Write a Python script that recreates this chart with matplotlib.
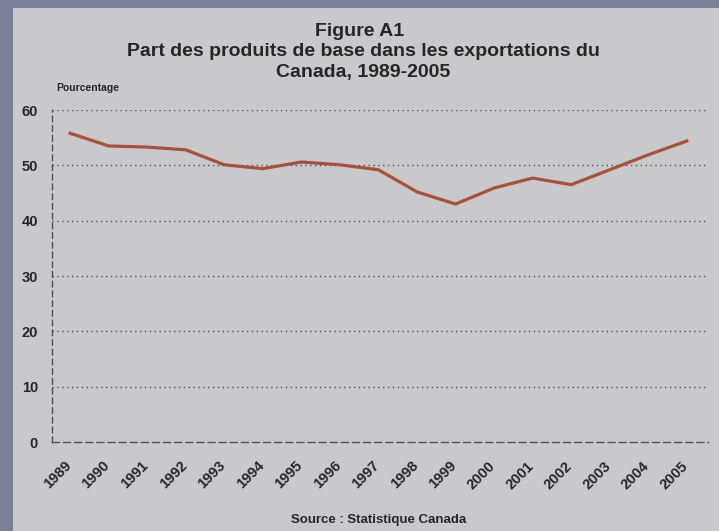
import matplotlib
matplotlib.use('Agg')
import matplotlib.pyplot as plt
import matplotlib.transforms as mtransforms
from matplotlib.patches import Rectangle

annees = ['1989', '1990', '1991', '1992', '1993', '1994', '1995', '1996', '1997',
          '1998', '1999', '2000', '2001', '2002', '2003', '2004', '2005']
part = [55.8, 53.5, 53.3, 52.8, 50.1, 49.4, 50.6, 50.1, 49.2,
        45.2, 43.0, 45.9, 47.7, 46.5, 49.2, 51.9, 54.4]
graduations = [0, 10, 20, 30, 40, 50, 60]

plt.rcParams['font.family'] = ['Liberation Sans', 'DejaVu Sans']
plt.rcParams['font.weight'] = 'bold'

fond_bord = '#7b7f9a'
fond = '#c9c9cb'
gris = '#505050'
texte = '#262626'

fig = plt.figure(figsize=(7.19, 5.31), dpi=100, facecolor=fond_bord)
fig.patches.append(Rectangle((13/719, 0), 1, 1 - 8/531, transform=fig.transFigure,
                             facecolor=fond, edgecolor='none', zorder=-5))

ax = fig.add_axes([52/719, 1 - 442/531, 656/719, 332/531])
ax.set_facecolor('none')
ax.set_zorder(2)

x = list(range(len(annees)))
ax.plot(x, part, color='#a4513d', lw=2.3, solid_joinstyle='round', zorder=3)

ax.set_xlim(-0.47, 16.55)
ax.set_ylim(0, 60)

for g in graduations[1:]:
  ax.axhline(g, color=gris, lw=1.0, ls=(0, (1, 2.5)), zorder=1)

for s in ['top', 'right']:
  ax.spines[s].set_visible(False)
for s in ['left', 'bottom']:
  ax.spines[s].set_color(gris)
  ax.spines[s].set_linewidth(1.0)
ax.spines['left'].set_linestyle((0, (4, 3)))
ax.spines['bottom'].set_linestyle((0, (5, 3)))

ax.set_yticks(graduations)
ax.set_yticklabels([str(g) for g in graduations], fontsize=10.5, fontweight='bold', color=texte)
ax.set_xticks(x)
ax.set_xticklabels(annees, rotation=45, ha='right', rotation_mode='anchor',
                   fontsize=10.5, fontweight='bold', color=texte)
ax.tick_params(axis='both', length=0)
ax.tick_params(axis='y', pad=10)
ax.tick_params(axis='x', pad=12)
decalage = mtransforms.ScaledTranslation(-6/100, 0, fig.dpi_scale_trans)
for lab in ax.get_xticklabels():
  lab.set_transform(lab.get_transform() + decalage)

fig.text(360/719, 1 - 32/531, 'Figure A1', ha='center', va='center', fontsize=14,
         fontweight='bold', color=texte)
fig.text(363/719, 1 - 52/531, 'Part des produits de base dans les exportations du',
         ha='center', va='center', fontsize=14, fontweight='bold', color=texte)
fig.text(363/719, 1 - 73/531, 'Canada, 1989-2005', ha='center', va='center',
         fontsize=14, fontweight='bold', color=texte)
fig.text(56/719, 1 - 88/531, 'Pourcentage', ha='left', va='center', fontsize=7.5,
         fontweight='bold', color=texte)
fig.text(379/719, 1 - 520/531, 'Source : Statistique Canada', ha='center', va='center',
         fontsize=9.5, fontweight='bold', color=texte)

fig.savefig('out.png', dpi=100, facecolor=fig.get_facecolor())
